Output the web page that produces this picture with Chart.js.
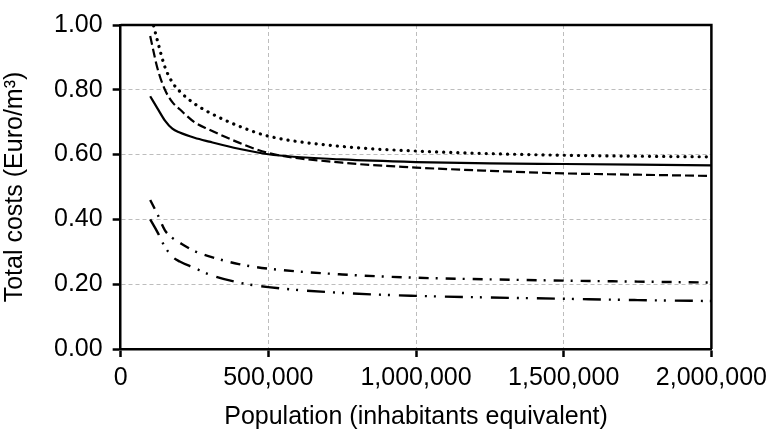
<!DOCTYPE html>
<html>
<head>
<meta charset="utf-8">
<script src="https://cdn.jsdelivr.net/npm/chart.js@4"></script>
<style>
    html, body { margin: 0; padding: 0; background: #fff; }
    #wrap { width: 773px; height: 435px; }
</style>
</head>
<body>
<div id="wrap"><canvas id="costChart"></canvas></div>
<script>
const population = [100000, 125000, 150000, 175000, 200000, 250000, 300000, 400000, 500000, 750000, 1000000, 1250000, 1500000, 1750000, 2000000];
const solidCosts = [0.78, 0.742, 0.705, 0.68, 0.668, 0.652, 0.64, 0.618, 0.601, 0.585, 0.577, 0.573, 0.571, 0.569, 0.567];
const dashedCosts = [0.966, 0.865, 0.80, 0.762, 0.74, 0.70, 0.677, 0.637, 0.605, 0.575, 0.56, 0.55, 0.542, 0.538, 0.534];
const dottedCosts = [1.04, 0.95, 0.87, 0.823, 0.795, 0.757, 0.73, 0.688, 0.657, 0.625, 0.611, 0.603, 0.598, 0.595, 0.593];
const dashDotCosts = [0.46, 0.415, 0.366, 0.343, 0.328, 0.302, 0.286, 0.262, 0.248, 0.23, 0.22, 0.215, 0.211, 0.208, 0.205];
const dashDotDotCosts = [0.40, 0.36, 0.315, 0.285, 0.27, 0.25, 0.23, 0.205, 0.191, 0.173, 0.164, 0.159, 0.155, 0.151, 0.148];

const xTicks = [0, 500000, 1000000, 1500000, 2000000];
const yTicks = [0, 0.2, 0.4, 0.6, 0.8, 1.0];

const FONT = 'Liberation Sans, Arial, sans-serif';

function toPoints(values) {
    return values.map((v, i) => ({ x: population[i], y: v }));
}

function lineSet(values, dash, width, cap) {
    return {
        data: toPoints(values),
        borderColor: '#000',
        borderWidth: width,
        borderDash: dash,
        borderCapStyle: cap || 'butt',
        pointRadius: 0,
        fill: false,
        cubicInterpolationMode: 'monotone'
    };
}

// top and right edges of the plot box
const frame = {
    id: 'frame',
    afterDraw(chart) {
        const { ctx, chartArea: a } = chart;
        ctx.save();
        ctx.strokeStyle = '#000';
        ctx.lineWidth = 2.5;
        ctx.beginPath();
        ctx.moveTo(a.left, a.top);
        ctx.lineTo(a.right, a.top);
        ctx.lineTo(a.right, a.bottom);
        ctx.stroke();
        ctx.restore();
    }
};

new Chart(document.getElementById('costChart'), {
    type: 'line',
    data: {
        datasets: [
            lineSet(solidCosts, [], 2.2),
            lineSet(dashedCosts, [9, 4], 2.2),
            lineSet(dottedCosts, [0.1, 7], 3.2, 'round'),
            lineSet(dashDotCosts, [10, 7, 2, 8], 2.4),
            lineSet(dashDotDotCosts, [18, 8, 2, 7, 2, 9], 2.4)
        ]
    },
    options: {
        responsive: true,
        maintainAspectRatio: false,
        animation: false,
        layout: { padding: { top: 16, right: 5, bottom: 0, left: 0 } },
        plugins: {
            legend: { display: false },
            tooltip: { enabled: false }
        },
        scales: {
            x: {
                type: 'linear',
                min: 0,
                max: 2000000,
                afterBuildTicks: axis => { axis.ticks = xTicks.map(v => ({ value: v })); },
                ticks: {
                    color: '#000',
                    font: { family: FONT, size: 25 },
                    padding: 6,
                    maxRotation: 0,
                    callback: v => v.toLocaleString('en-US')
                },
                grid: {
                    color: '#bdbdbd',
                    lineWidth: 1,
                    tickColor: '#000',
                    tickLength: 8,
                    tickWidth: 2.5
                },
                border: { color: '#000', width: 2.5, dash: [4, 3] },
                title: {
                    display: true,
                    text: 'Population (inhabitants equivalent)',
                    color: '#000',
                    font: { family: FONT, size: 25 },
                    padding: { top: 3, bottom: 3 }
                }
            },
            y: {
                min: 0,
                max: 1,
                afterBuildTicks: axis => { axis.ticks = yTicks.map(v => ({ value: v })); },
                ticks: {
                    color: '#000',
                    font: { family: FONT, size: 25 },
                    padding: 10,
                    callback: v => v.toFixed(2)
                },
                grid: {
                    color: '#bdbdbd',
                    lineWidth: 1,
                    tickColor: '#000',
                    tickLength: 8,
                    tickWidth: 2.5
                },
                border: { color: '#000', width: 2.5, dash: [4, 3] },
                title: {
                    display: true,
                    text: 'Total costs (Euro/m\u00B3)',
                    color: '#000',
                    font: { family: FONT, size: 25 },
                    padding: { top: 0, bottom: 14 }
                }
            }
        }
    },
    plugins: [frame]
});
</script>
</body>
</html>
